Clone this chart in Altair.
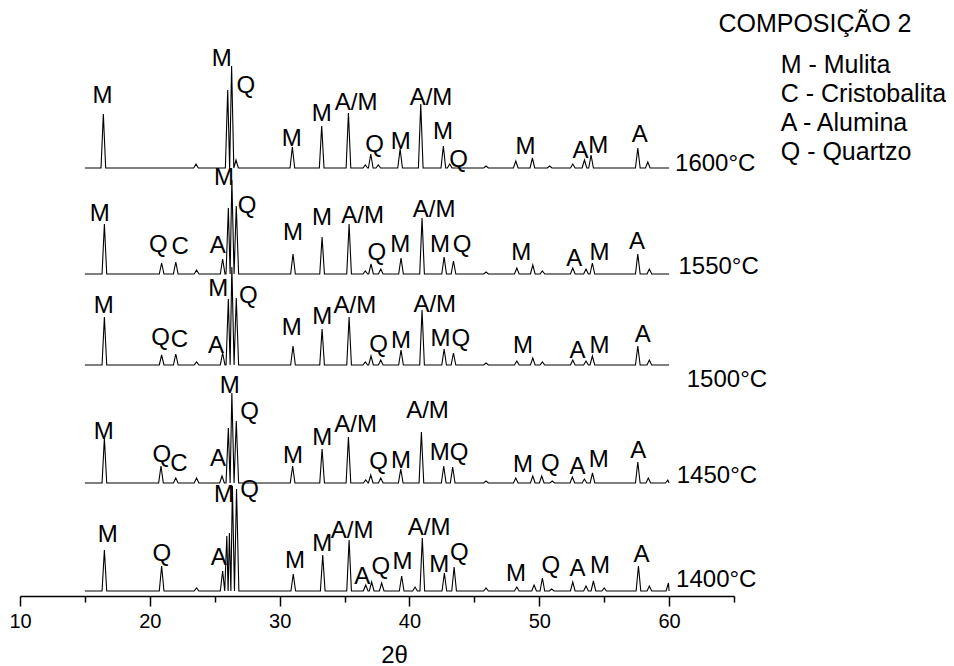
import altair as alt
import pandas as pd

# ---------------- data ----------------
TEMPS = ["1400°C", "1450°C", "1500°C", "1550°C", "1600°C"]
OFFSETS = [5, 113, 231, 322, 428]          # baseline level of each pattern (stacking offset)
THETA_START, THETA_END = 15.0, 60.0

# (2θ, intensity above baseline)
PEAKS_1400 = [(16.5, 41), (20.91, 25), (23.6, 3), (25.61, 20), (25.93, 55), (26.13, 58),
              (26.36, 105), (26.68, 102), (31.05, 17), (33.32, 36), (35.35, 51), (36.63, 6),
              (37.09, 9), (37.86, 8), (39.4, 15), (40.43, 4), (40.99, 53), (42.69, 18),
              (43.44, 24), (45.9, 3), (48.27, 4), (49.6, 6), (50.24, 13), (50.96, 2),
              (52.58, 9), (53.6, 5), (54.17, 10), (55.0, 3), (57.64, 25), (58.48, 5), (59.95, 8)]
PEAKS_1450 = [(16.5, 45), (20.86, 17), (22.0, 5), (23.6, 5), (25.56, 7), (26.05, 55),
              (26.32, 90), (26.66, 62), (31.0, 17), (33.27, 34), (35.3, 46), (36.63, 3),
              (37.02, 8), (37.79, 5), (39.33, 14), (40.92, 51), (42.64, 17), (43.33, 16),
              (45.9, 2), (48.19, 5), (49.5, 7), (50.19, 7), (51.0, 2), (52.55, 6), (53.48, 4),
              (54.1, 10), (57.59, 21), (58.4, 5), (59.9, 3)]
PEAKS_1500 = [(16.5, 48), (20.91, 10), (22.0, 11), (23.6, 3), (25.61, 12), (26.05, 66),
              (26.32, 98), (26.66, 67), (31.03, 19), (33.27, 36), (35.35, 48), (36.6, 3),
              (37.04, 9), (37.79, 5), (39.35, 15), (40.97, 55), (42.67, 16), (43.39, 12),
              (45.9, 2), (48.27, 4), (49.5, 7), (50.24, 3), (52.58, 5), (53.6, 4), (54.09, 9),
              (57.59, 19), (58.48, 5)]
PEAKS_1550 = [(16.5, 50), (20.91, 11), (22.0, 12), (23.6, 4), (25.61, 15), (26.05, 66),
              (26.32, 94), (26.66, 68), (31.03, 20), (33.27, 37), (35.35, 50), (36.6, 3),
              (37.04, 10), (37.79, 5), (39.35, 16), (40.97, 56), (42.67, 17), (43.39, 13),
              (45.9, 2), (48.27, 6), (49.5, 9), (50.24, 3), (52.58, 6), (53.6, 5), (54.09, 11),
              (57.59, 20), (58.48, 5)]
PEAKS_1600 = [(16.42, 54), (23.56, 4), (26.0, 78), (26.3, 102), (26.64, 8), (30.98, 21),
              (33.24, 42), (35.30, 55), (36.6, 3), (37.02, 14), (37.6, 3), (39.28, 19),
              (40.87, 64), (42.61, 22), (43.1, 4), (45.9, 2), (48.19, 7), (49.47, 10),
              (50.8, 2), (52.58, 4), (53.48, 8), (53.99, 13), (57.59, 20), (58.36, 6)]
PEAKS = [PEAKS_1400, PEAKS_1450, PEAKS_1500, PEAKS_1550, PEAKS_1600]
HALF_WIDTH = 0.18   # peak half-width at the foot, degrees 2θ

# phase labels: (text, 2θ, level)
LABELS_1400 = [("M", 16.76, 54), ("Q", 20.92, 35), ("A", 25.31, 31), ("M", 25.72, 94),
               ("Q", 27.68, 99), ("M", 31.19, 28), ("M", 33.29, 45), ("A/M", 35.58, 58),
               ("A", 36.36, 12), ("Q", 37.80, 22), ("M", 39.47, 27), ("A/M", 41.51, 61),
               ("M", 42.30, 24), ("Q", 43.84, 36), ("M", 48.20, 15), ("Q", 50.89, 23),
               ("A", 52.95, 20), ("M", 54.68, 23), ("A", 57.87, 34)]
LABELS_1450 = [("M", 16.46, 157), ("Q", 20.92, 134), ("C", 22.25, 125), ("A", 25.25, 130),
               ("M", 26.16, 203), ("Q", 27.68, 177), ("M", 31.03, 133), ("M", 33.28, 151),
               ("A/M", 35.85, 164), ("Q", 37.62, 127), ("M", 39.34, 128), ("A/M", 41.39, 178),
               ("M", 42.33, 136), ("Q", 43.82, 136), ("M", 48.75, 124), ("Q", 50.85, 125),
               ("A", 52.95, 122), ("M", 54.58, 129), ("A", 57.63, 138)]
LABELS_1500 = [("M", 16.46, 283), ("Q", 20.82, 251), ("C", 22.29, 249), ("A", 25.10, 243),
               ("M", 25.28, 300), ("Q", 27.59, 293), ("M", 30.93, 261), ("M", 33.29, 272),
               ("A/M", 35.79, 283), ("Q", 37.62, 244), ("M", 39.34, 248), ("A/M", 41.95, 284),
               ("M", 42.40, 250), ("Q", 43.96, 250), ("M", 48.75, 243), ("A", 52.95, 238),
               ("M", 54.63, 243), ("A", 57.98, 254)]
LABELS_1550 = [("M", 16.14, 375), ("Q", 20.65, 344), ("C", 22.33, 342), ("A", 25.23, 343),
               ("M", 25.72, 411), ("Q", 27.49, 383), ("M", 31.03, 356), ("M", 33.27, 371),
               ("A/M", 36.39, 373), ("Q", 37.49, 336), ("M", 39.30, 344), ("A/M", 41.90, 379),
               ("M", 42.36, 344), ("Q", 44.05, 344), ("M", 48.61, 336), ("A", 52.70, 330),
               ("M", 54.63, 336), ("A", 57.53, 347)]
LABELS_1600 = [("M", 16.36, 493), ("M", 25.54, 530), ("Q", 27.40, 503), ("M", 30.93, 450),
               ("M", 33.24, 475), ("A/M", 35.89, 486), ("Q", 37.31, 444), ("M", 39.33, 447),
               ("A/M", 41.66, 491), ("M", 42.59, 457), ("Q", 43.78, 429), ("M", 48.93, 442),
               ("A", 53.18, 438), ("M", 54.55, 443), ("A", 57.74, 454)]
PEAK_LABELS = LABELS_1400 + LABELS_1450 + LABELS_1500 + LABELS_1550 + LABELS_1600

# temperature tags: (text, 2θ of left edge, level)
TEMP_LABELS = [("1400°C", 60.54, 9), ("1450°C", 60.59, 113), ("1500°C", 61.36, 209),
               ("1550°C", 60.72, 322), ("1600°C", 60.46, 425)]

LEGEND_TITLE = ("COMPOSIÇÃO 2", 63.80, 564)
LEGEND_ITEMS = [("M - Mulita", 68.60, 523), ("C - Cristobalita", 68.60, 494),
                ("A - Alumina", 68.60, 465), ("Q - Quartzo", 68.60, 436)]

X_TICKS = [10, 15, 20, 25, 30, 35, 40, 45, 50, 55, 60, 65]

# ---------------- build table ----------------
rows = []
for temp, off, peaks in zip(TEMPS, OFFSETS, PEAKS):
    pk = sorted(peaks)
    pts = [(THETA_START, off)]
    for i, (p, h) in enumerate(pk):
        left_gap = p - pk[i - 1][0] if i > 0 else 1.0
        right_gap = pk[i + 1][0] - p if i < len(pk) - 1 else 1.0
        hl = min(HALF_WIDTH, left_gap / 2)
        hr = min(HALF_WIDTH, right_gap / 2)
        pts += [(p - hl, off), (p, off + h), (min(p + hr, THETA_END), off)]
    pts.append((THETA_END, off))
    for j, (x, y) in enumerate(pts):
        rows.append({"temp": temp, "i": j, "theta": x, "I": y})
lines_df = pd.DataFrame(rows)

lab_df = pd.DataFrame(PEAK_LABELS, columns=["text", "theta", "I"])
temp_df = pd.DataFrame(TEMP_LABELS, columns=["text", "theta", "I"])
leg_df = pd.DataFrame([LEGEND_TITLE] + LEGEND_ITEMS, columns=["text", "theta", "I"])

FONT = "Liberation Sans"

xscale = alt.Scale(domain=[10, 65], nice=False, zero=False)
yscale = alt.Scale(domain=[0, 540], nice=False, zero=False)

x_axis = alt.Axis(
    values=X_TICKS,
    labelExpr="datum.value % 10 === 0 ? datum.label : ''",
    tickSize=alt.condition("datum.value % 10 === 0", alt.value(10), alt.value(6)),
    grid=False, domainColor="black", tickColor="black", domainWidth=1.5, tickWidth=1.5,
    labelColor="black", labelFont=FONT, labelFontSize=20, labelPadding=5,
    labelFlush=False, labelOverlap=False,
    title="2θ", titleFont=FONT, titleFontSize=24, titleFontWeight="normal",
    titleColor="black", titleX=374, titleY=66, titleBaseline="alphabetic",
)

base_x = alt.X("theta:Q", scale=xscale, axis=x_axis)

lines = alt.Chart(lines_df).mark_line(color="black", strokeWidth=1.1).encode(
    x=base_x,
    y=alt.Y("I:Q", scale=yscale, axis=None),
    detail="temp:N",
    order="i:Q",
)

peak_text = alt.Chart(lab_df).mark_text(
    align="center", baseline="alphabetic", font=FONT, fontSize=24, color="black"
).encode(x=alt.X("theta:Q", scale=xscale), y=alt.Y("I:Q", scale=yscale), text="text:N")

temp_text = alt.Chart(temp_df).mark_text(
    align="left", baseline="alphabetic", font=FONT, fontSize=24, color="black"
).encode(x=alt.X("theta:Q", scale=xscale), y=alt.Y("I:Q", scale=yscale), text="text:N")

leg_text = alt.Chart(leg_df).mark_text(
    align="left", baseline="alphabetic", font=FONT, fontSize=25, color="black"
).encode(x=alt.X("theta:Q", scale=xscale), y=alt.Y("I:Q", scale=yscale), text="text:N")

chart = (
    alt.layer(lines, peak_text, temp_text, leg_text)
    .properties(
        width=714, height=540,
        autosize=alt.AutoSizeParams(type="none"),
        padding={"left": 12, "top": 48, "right": 212, "bottom": 70},
    )
    .configure_view(stroke=None)
)

chart.save("out.html", embed_options={"renderer": "svg", "actions": False})
